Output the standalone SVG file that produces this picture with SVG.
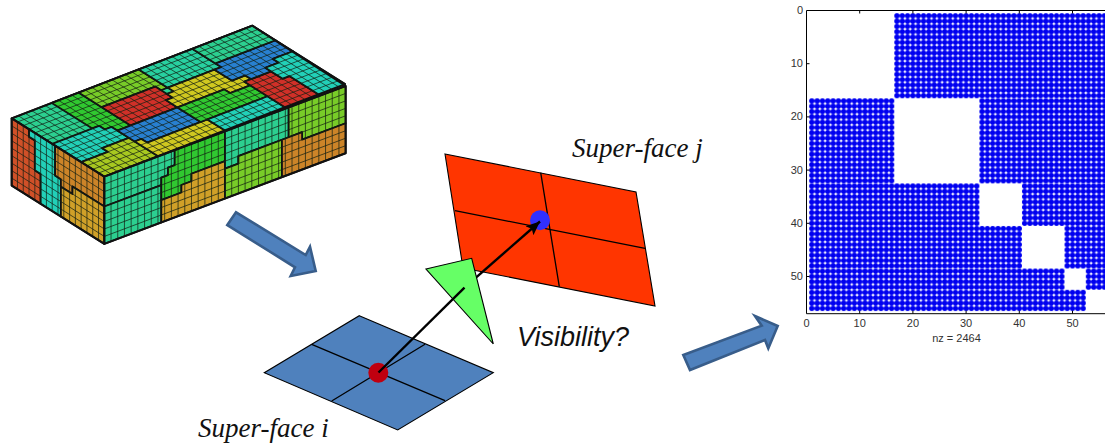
<svg xmlns="http://www.w3.org/2000/svg" width="1105" height="445" viewBox="0 0 1105 445">
<style>
text{font-family:"Liberation Sans",Arial,sans-serif}
.serif{font-family:"Liberation Serif","Times New Roman",serif;font-style:italic;font-size:27px;fill:#111}
.ital{font-style:italic;font-size:27px;fill:#111}
.tk{font-size:11px;fill:#333}
.r{stroke:#111;stroke-width:1.8;stroke-linejoin:round;vector-effect:non-scaling-stroke}
.g{fill:none;stroke:#142014;stroke-opacity:.8;stroke-width:.9;vector-effect:non-scaling-stroke}
.face{stroke:#000;stroke-width:1.1}
.ln{stroke:#000;stroke-width:1.3;fill:none}
.ba{fill:#4f81bd;stroke:#385d8a;stroke-width:2.6;stroke-linejoin:miter}
.sp{stroke:#000;stroke-width:1;fill:none}
.conn{stroke:#000;stroke-width:2.4;fill:none}
.a{fill:#2ccf90}.c{fill:#22d0b8}.gr{fill:#30c830}.l{fill:#78cc28}.o{fill:#a8c820}.y{fill:#d0c820}.d{fill:#d0a028}.n{fill:#cc8428}.f{fill:#d05028}.e{fill:#d03028}.b{fill:#2880d0}.m{fill:#28d0a0}
</style>
<defs>
<pattern id="dots" patternUnits="userSpaceOnUse" x="0.5" y="0.5" width="1" height="1">
<circle cx=".5" cy=".5" r=".5" fill="#0000f0"/>
</pattern>
<marker id="head" markerUnits="userSpaceOnUse" markerWidth="16" markerHeight="14" refX="14" refY="6" orient="auto">
<path d="M0 0L14 6L0 12L3 6Z" fill="#000"/>
</marker>
</defs>

<g id="mesh-box" transform="translate(0,20) scale(.33333)">
<g id="top-face" transform="matrix(20.06,-7.72,17.375,10.94,35,295)">
<polygon class="a r" points="0,0 36,0 36,16 0,16"/>
<polygon class="gr r" points="6,0 10,0 10,9 8,9 8,8 7,8 7,7 6,7"/>
<polygon class="c r" points="0,7 7,7 7,8 8,8 8,11 4,11 4,12 0,12"/>
<polygon class="o r" points="0,12 4,12 4,11 8,11 8,16 0,16"/>
<polygon class="l r" points="10,0 19,0 19,5 18,5 18,4 10,4"/>
<polygon class="e r" points="10,4 18,4 18,7 17,7 17,9 10,9"/>
<polygon class="b r" points="8,9 17,9 17,13 9,13 9,12 8,12"/>
<polygon class="y r" points="8,12 9,12 9,13 18,13 18,16 8,16"/>
<polygon class="m r" points="19,0 27,0 27,5 19,5"/>
<polygon class="y r" points="20,5 26,5 26,8 28,8 28,9 27,9 27,10 24,10 24,9 17,9 17,7 18,7 18,6 19,6 19,5"/>
<polygon class="gr r" points="17,9 24,9 24,10 27,10 27,13 17,13"/>
<polygon class="c r" points="18,13 27,13 27,16 18,16"/>
<polygon class="e r" points="27,10 27,9 28,9 31,9 31,11 32,11 32,16 27,16"/>
<polygon class="b r" points="27,4 36,4 36,7 33,7 33,8 31,8 31,9 28,9 28,8 26,8 26,5 27,5"/>
<polygon class="c r" points="31,8 33,8 33,7 36,7 36,16 32,16 32,11 31,11"/>
<polygon class="a r" points="27,0 36,0 36,4 27,4"/>
<path class="g" d="M1 0V16M2 0V16M3 0V16M4 0V16M5 0V16M6 0V16M7 0V16M8 0V16M9 0V16M10 0V16M11 0V16M12 0V16M13 0V16M14 0V16M15 0V16M16 0V16M17 0V16M18 0V16M19 0V16M20 0V16M21 0V16M22 0V16M23 0V16M24 0V16M25 0V16M26 0V16M27 0V16M28 0V16M29 0V16M30 0V16M31 0V16M32 0V16M33 0V16M34 0V16M35 0V16M0 1H36M0 2H36M0 3H36M0 4H36M0 5H36M0 6H36M0 7H36M0 8H36M0 9H36M0 10H36M0 11H36M0 12H36M0 13H36M0 14H36M0 15H36"/>
</g>
<g id="left-face" transform="matrix(17.375,10.94,0,22.4,35,295)">
<polygon class="f r" points="0,0 3,0 3,1 4,1 4,5 5,5 5,9 0,9"/>
<polygon class="c r" points="3,0 7.5,0 7.5,4 8.5,4 8.5,9 5,9 5,5 4,5 4,1 3,1"/>
<polygon class="n r" points="7.5,0 16,0 16,4 10.5,4 10.5,5 8.5,5 8.5,4 7.5,4"/>
<polygon class="d r" points="8.5,5 10.5,5 10.5,4 16,4 16,9 8.5,9"/>
<path class="g" d="M1 0V9M2 0V9M3 0V9M4 0V9M5 0V9M6 0V9M7 0V9M8 0V9M9 0V9M10 0V9M11 0V9M12 0V9M13 0V9M14 0V9M15 0V9M0 1H16M0 2H16M0 3H16M0 4H16M0 5H16M0 6H16M0 7H16M0 8H16"/>
</g>
<g id="front-face" transform="matrix(20.11,-7.56,0,22.4,313,470)">
<polygon class="a r" points="0,0 10.5,0 10.5,2 9.5,2 9.5,3 8.5,3 8.5,4 0,4"/>
<polygon class="a r" points="0,4 8.5,4 8.5,9 0,9"/>
<polygon class="gr r" points="10.5,0 18,0 18,4 13,4 13,5 11.5,5 11.5,6 8.5,6 8.5,3 9.5,3 9.5,2 10.5,2"/>
<polygon class="d r" points="8.5,6 11.5,6 11.5,5 13,5 13,4 18,4 18,9 8.5,9"/>
<polygon class="a r" points="18,0 27.5,0 27.5,4 20,4 20,5 18,5"/>
<polygon class="l r" points="18,5 20,5 20,4 26.5,4 26.5,9 18,9"/>
<polygon class="l r" points="27.5,0 36,0 36,5 29.5,5 29.5,4 27.5,4"/>
<polygon class="n r" points="26.5,4 29.5,4 29.5,5 36,5 36,9 26.5,9"/>
<path class="g" d="M1 0V9M2 0V9M3 0V9M4 0V9M5 0V9M6 0V9M7 0V9M8 0V9M9 0V9M10 0V9M11 0V9M12 0V9M13 0V9M14 0V9M15 0V9M16 0V9M17 0V9M18 0V9M19 0V9M20 0V9M21 0V9M22 0V9M23 0V9M24 0V9M25 0V9M26 0V9M27 0V9M28 0V9M29 0V9M30 0V9M31 0V9M32 0V9M33 0V9M34 0V9M35 0V9M0 1H36M0 2H36M0 3H36M0 4H36M0 5H36M0 6H36M0 7H36M0 8H36"/>
</g>
<path d="M35 295L757 17L1037 198V399.6L313 671.6L35 496.6ZM313 470V671.6M313 470L1037 198M313 470L35 295" fill="none" stroke="#111" stroke-width="6" stroke-linejoin="round"/>
</g>

<g id="arrow-1"><path class="ba" d="M227.3 225L236 212.3L305.7 255L310 246.7L315.7 271L290.7 276L295 267.3Z"/></g>
<g id="arrow-2"><path class="ba" d="M683.3 355L690 370L765 340L768.3 348.3L777.7 326L755 316L761.7 325.7Z"/></g>

<g id="super-face-j">
<polygon class="face" fill="#ff3500" points="445,154 636,192 655,306 463,268"/>
<path class="ln" d="M540.7 172.7L559.3 286.7M455 210.7L645 248.3"/>
<circle cx="540" cy="220.3" r="10" fill="#3030ff"/>
</g>
<g id="super-face-i">
<polygon class="face" fill="#4f81bd" points="359.3,315.7 493.3,372.7 397.7,430 264.3,372.7"/>
<path class="ln" d="M311.7 344.3L445 400.7M425 344.3L331.7 401"/>
<circle cx="378.3" cy="372.7" r="10" fill="#c00010"/>
</g>
<g id="connectors">
<path class="conn" d="M464.5 287.6L540 221.5" marker-end="url(#head)"/>
</g>
<g id="occluder">
<polygon class="face" fill="#66ff66" points="426,269 471.7,258.3 493.3,344"/>
</g>
<g id="connectors-front">
<path class="conn" d="M378.5 372.5L464.5 287.6"/>
</g>

<text class="serif" x="572" y="157">Super-face j</text>
<text class="serif" x="198" y="437">Super-face i</text>
<text class="ital" x="517" y="346">Visibility?</text>

<g id="spy-plot">
<g transform="translate(806.5,10.5) scale(5.32)">
<rect x="16.5" y=".5" width="40" height="16" fill="url(#dots)"/>
<rect x=".5" y="16.5" width="16" height="16" fill="url(#dots)"/>
<rect x="32.5" y="16.5" width="24" height="16" fill="url(#dots)"/>
<rect x=".5" y="32.5" width="32" height="8" fill="url(#dots)"/>
<rect x="40.5" y="32.5" width="16" height="8" fill="url(#dots)"/>
<rect x=".5" y="40.5" width="40" height="8" fill="url(#dots)"/>
<rect x="48.5" y="40.5" width="8" height="8" fill="url(#dots)"/>
<rect x=".5" y="48.5" width="48" height="4" fill="url(#dots)"/>
<rect x="52.5" y="48.5" width="4" height="4" fill="url(#dots)"/>
<rect x=".5" y="52.5" width="52" height="4" fill="url(#dots)"/>
</g>
<path class="sp" d="M1106 10.5H806.5V313.7H1106"/>
<path class="sp" d="M859.7 10.5v3M912.9 10.5v3M966.1 10.5v3M1019.3 10.5v3M1072.5 10.5v3M859.7 313.7v-3M912.9 313.7v-3M966.1 313.7v-3M1019.3 313.7v-3M1072.5 313.7v-3M806.5 63.7h3M806.5 116.9h3M806.5 170.1h3M806.5 223.3h3M806.5 276.5h3"/>
<g class="tk" text-anchor="end">
<text x="803" y="14">0</text><text x="803" y="67">10</text><text x="803" y="120">20</text><text x="803" y="174">30</text><text x="803" y="227">40</text><text x="803" y="280">50</text>
</g>
<g class="tk" text-anchor="middle">
<text x="806.5" y="327">0</text><text x="859.7" y="327">10</text><text x="912.9" y="327">20</text><text x="966.1" y="327">30</text><text x="1019.3" y="327">40</text><text x="1072.5" y="327">50</text>
<text x="956.5" y="342">nz = 2464</text>
</g>
</g>
</svg>
